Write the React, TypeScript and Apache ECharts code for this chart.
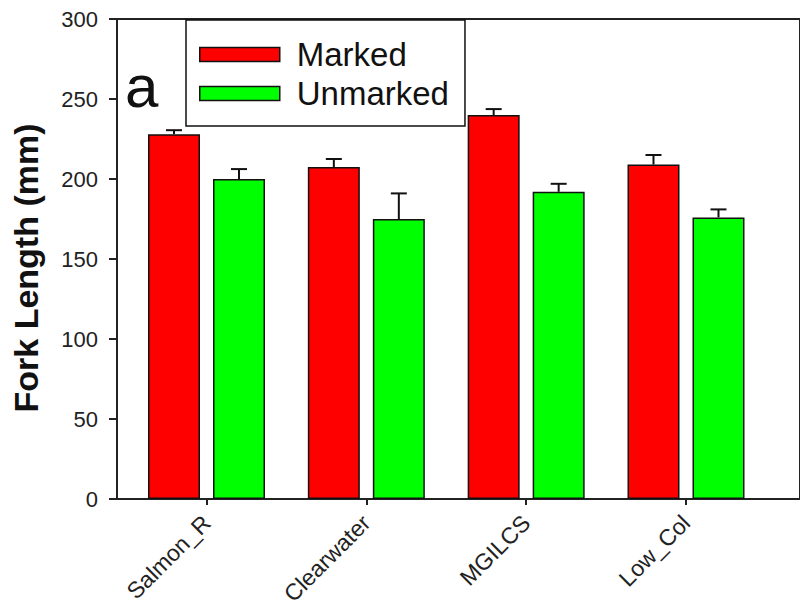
import React, { useEffect, useRef } from "react";
import * as echarts from "echarts";

const categories = ["Salmon_R", "Clearwater", "MGILCS", "Low_Col"];
const markedValues = [228, 207.5, 240, 209];
const markedErrors = [2.5, 5, 3.7, 6];
const unmarkedValues = [200, 175, 192, 176];
const unmarkedErrors = [6.2, 16, 5, 5];
const yTicks = [0, 50, 100, 150, 200, 250, 300];
const seriesNames = ["Marked", "Unmarked"];

const BAR_W = 52;
const GAP = 13;
const OFFSET = (BAR_W + GAP) / 2;

function errorSeries(name: string, values: number[], errs: number[], dx: number) {
  return {
    type: "custom",
    name: name + "_err",
    z: 5,
    silent: true,
    data: values.map((v, i) => [i, v, errs[i]]),
    renderItem: (_p: any, api: any) => {
      const x = api.value(0);
      const y = api.value(1);
      const e = api.value(2);
      const a = api.coord([x, y]);
      const b = api.coord([x, y + e]);
      const cx = a[0] + dx;
      const style = { stroke: "#111", lineWidth: 2 };
      return {
        type: "group",
        children: [
          { type: "line", shape: { x1: cx, y1: a[1], x2: cx, y2: b[1] }, style },
          { type: "line", shape: { x1: cx - 8, y1: b[1], x2: cx + 8, y2: b[1] }, style },
        ],
      };
    },
  };
}

export default function App() {
  const ref = useRef<HTMLDivElement>(null);
  useEffect(() => {
    if (!ref.current) return;
    const chart = echarts.init(ref.current, undefined, { renderer: "svg" });
    const itemBorder = { borderColor: "#111", borderWidth: 1.5 };
    chart.setOption({
      animation: false,
      backgroundColor: "#fff",
      textStyle: { fontFamily: "Liberation Sans, Arial, sans-serif" },
      grid: {
        left: 117,
        top: 19,
        width: 688,
        height: 480,
        show: true,
        borderColor: "#222",
        borderWidth: 2,
        backgroundColor: "transparent",
      },
      legend: {
        left: 186,
        top: 20,
        orient: "vertical",
        data: seriesNames,
        borderColor: "#111",
        borderWidth: 1.5,
        padding: [18, 16, 16, 13],
        itemWidth: 80,
        itemHeight: 14,
        itemGap: 6,
        icon: "rect",
        itemStyle: itemBorder,
        textStyle: {
          fontSize: 33,
          lineHeight: 32,
          color: "#111",
          padding: [0, 0, 0, 12],
        },
      },
      xAxis: {
        type: "value",
        min: -0.56,
        max: -0.56 + 688 / 161,
        splitLine: { show: false },
        axisLine: { show: true, onZero: false, lineStyle: { color: "#222", width: 2 } },
        axisTick: {
          show: true,
          length: 6,
          customValues: [0, 1, 2, 3],
          lineStyle: { color: "#222", width: 2 },
        },
        axisLabel: {
          customValues: [0, 1, 2, 3],
          formatter: (v: number) => categories[Math.round(v)] ?? "",
          rotate: 45,
          fontSize: 23,
          color: "#222",
          margin: 20,
        },
      },
      yAxis: {
        type: "value",
        min: 0,
        max: 300,
        interval: 50,
        name: "Fork Length (mm)",
        nameLocation: "middle",
        nameGap: 74,
        nameTextStyle: {
          fontSize: 34,
          fontWeight: "bold",
          color: "#111",
          padding: [0, 18, 0, 0],
        },
        splitLine: { show: false },
        axisLine: { show: true, onZero: false, lineStyle: { color: "#222", width: 2 } },
        axisTick: { show: true, inside: false, length: 8, lineStyle: { color: "#222", width: 2 } },
        axisLabel: {
          fontSize: 22,
          color: "#222",
          margin: 19,
          formatter: (v: number) => (yTicks.includes(v) ? String(v) : ""),
        },
      },
      graphic: [
        {
          type: "text",
          left: 125,
          top: 56,
          style: { text: "a", fontSize: 60, fill: "#111", fontFamily: "Liberation Sans, Arial, sans-serif" },
        },
      ],
      series: [
        {
          type: "bar",
          name: seriesNames[0],
          barWidth: BAR_W,
          barGap: (GAP / BAR_W) * 100 + "%",
          data: markedValues.map((v, i) => [i, v]),
          itemStyle: { color: "#ff0000", ...itemBorder },
        },
        {
          type: "bar",
          name: seriesNames[1],
          barWidth: BAR_W,
          barGap: (GAP / BAR_W) * 100 + "%",
          data: unmarkedValues.map((v, i) => [i, v]),
          itemStyle: { color: "#00ff00", ...itemBorder },
        },
        errorSeries("Marked", markedValues, markedErrors, -OFFSET),
        errorSeries("Unmarked", unmarkedValues, unmarkedErrors, OFFSET),
      ],
    });
    return () => chart.dispose();
  }, []);
  return (
    <div
      ref={ref}
      style={{ position: "fixed", left: 0, top: 0, width: 800, height: 610, background: "#fff" }}
    />
  );
}
